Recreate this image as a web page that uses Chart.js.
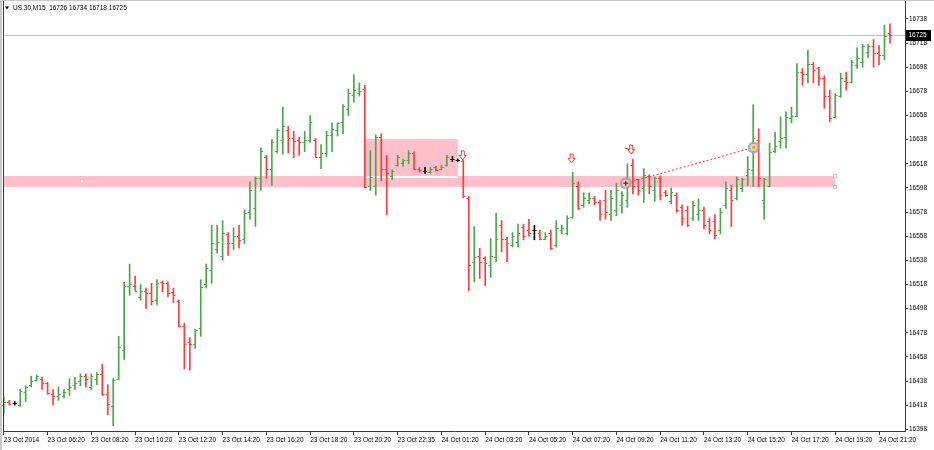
<!DOCTYPE html>
<html>
<head>
<meta charset="utf-8">
<title>US.30,M15</title>
<script src="https://cdn.jsdelivr.net/npm/chart.js@4.4.1/dist/chart.umd.min.js"></script>
<style>
  html, body { margin: 0; padding: 0; background: #fff; }
  #wrap { width: 934px; height: 450px; }
</style>
</head>
<body>
<div id="wrap"><canvas id="ohlc" width="934" height="450"></canvas></div>
<script>
var symbolTitle = "US.30,M15  16726 16734 16718 16725";

var timeLabels = [
  "23 Oct 2014", "23 Oct 06:20", "23 Oct 08:20", "23 Oct 10:20", "23 Oct 12:20",
  "23 Oct 14:20", "23 Oct 16:20", "23 Oct 18:20", "23 Oct 20:20", "23 Oct 22:35",
  "24 Oct 01:20", "24 Oct 03:20", "24 Oct 05:20", "24 Oct 07:20", "24 Oct 09:20",
  "24 Oct 11:20", "24 Oct 13:20", "24 Oct 15:20", "24 Oct 17:20", "24 Oct 19:20",
  "24 Oct 21:20"
];
var barsPerLabel = 8;

var priceTicks = [16398, 16418, 16438, 16458, 16478, 16498, 16518, 16538, 16558,
  16578, 16598, 16618, 16638, 16658, 16678, 16698, 16718, 16738];

// M15 bars, oldest first
var opens = [
  16418, 16421, 16420, 16418, 16429, 16435, 16439, 16440, 16436, 16427,
  16426, 16426, 16431, 16435, 16438, 16442, 16433, 16440, 16444, 16427,
  16417, 16440, 16464, 16517, 16517, 16508, 16513, 16511, 16505, 16520,
  16519, 16512, 16504, 16484, 16470, 16469, 16482, 16518, 16530, 16547,
  16542, 16560, 16552, 16558, 16556, 16578, 16581, 16606, 16624, 16614,
  16629, 16638, 16646, 16639, 16638, 16636, 16638, 16638, 16624, 16627,
  16642, 16646, 16653, 16663, 16675, 16677, 16680, 16600, 16600, 16640,
  16614, 16608, 16617, 16619, 16621, 16627, 16614, 16612, 16611, 16615,
  16614, 16617, 16622, 16621, 16620, 16590, 16537, 16542, 16540, 16534,
  16541, 16567, 16556, 16551, 16553, 16566, 16563, 16563, 16561, 16556,
  16561, 16551, 16563, 16561, 16574, 16600, 16584, 16588, 16590, 16586,
  16588, 16576, 16580, 16584, 16588, 16617, 16605, 16598, 16608, 16596,
  16606, 16595, 16587, 16592, 16582, 16580, 16573, 16576, 16580, 16571,
  16571, 16563, 16584, 16596, 16590, 16598, 16609, 16613, 16638, 16588,
  16600, 16629, 16637, 16640, 16656, 16658, 16694, 16692, 16701, 16697,
  16689, 16674, 16657, 16674, 16687, 16686, 16700, 16702, 16711, 16716,
  16710, 16708, 16726
];
var highs = [
  16425, 16422, 16421, 16431, 16434, 16442, 16443, 16441, 16437, 16431,
  16433, 16431, 16440, 16441, 16444, 16444, 16444, 16445, 16452, 16435,
  16440, 16475, 16520, 16535, 16525, 16518, 16515, 16519, 16522, 16521,
  16520, 16515, 16505, 16486, 16474, 16481, 16522, 16535, 16567, 16567,
  16571, 16561, 16565, 16567, 16580, 16603, 16607, 16631, 16625, 16638,
  16647, 16665, 16649, 16645, 16640, 16645, 16658, 16639, 16634, 16645,
  16652, 16652, 16667, 16680, 16692, 16685, 16683, 16629, 16642, 16643,
  16625, 16613, 16625, 16622, 16629, 16628, 16615, 16615, 16615, 16616,
  16617, 16625, 16624, 16622, 16621, 16591, 16566, 16548, 16541, 16556,
  16577, 16571, 16557, 16561, 16568, 16568, 16572, 16567, 16563, 16561,
  16563, 16571, 16567, 16575, 16611, 16603, 16594, 16594, 16591, 16588,
  16596, 16596, 16602, 16595, 16618, 16622, 16605, 16614, 16609, 16607,
  16608, 16596, 16598, 16594, 16584, 16583, 16587, 16589, 16582, 16573,
  16576, 16581, 16603, 16600, 16607, 16606, 16624, 16667, 16647, 16606,
  16635, 16644, 16657, 16661, 16665, 16701, 16697, 16712, 16702, 16698,
  16691, 16679, 16676, 16693, 16694, 16704, 16714, 16717, 16717, 16721,
  16716, 16733, 16734
];
var lows = [
  16411, 16418, 16418, 16417, 16421, 16433, 16438, 16431, 16427, 16418,
  16422, 16424, 16426, 16431, 16434, 16433, 16431, 16435, 16426, 16410,
  16401, 16439, 16456, 16509, 16513, 16505, 16498, 16501, 16501, 16512,
  16508, 16503, 16483, 16448, 16447, 16465, 16475, 16515, 16519, 16544,
  16538, 16542, 16547, 16548, 16552, 16572, 16566, 16596, 16606, 16600,
  16627, 16626, 16627, 16623, 16625, 16628, 16636, 16623, 16614, 16624,
  16628, 16641, 16643, 16658, 16669, 16674, 16598, 16596, 16592, 16604,
  16576, 16605, 16616, 16616, 16618, 16613, 16611, 16610, 16610, 16612,
  16613, 16616, 16620, 16620, 16590, 16513, 16520, 16523, 16517, 16524,
  16537, 16545, 16537, 16549, 16549, 16555, 16558, 16555, 16555, 16555,
  16547, 16549, 16560, 16559, 16573, 16580, 16582, 16585, 16584, 16571,
  16572, 16571, 16575, 16577, 16582, 16593, 16592, 16586, 16593, 16587,
  16588, 16591, 16585, 16578, 16567, 16566, 16571, 16571, 16564, 16560,
  16556, 16560, 16581, 16566, 16588, 16595, 16600, 16599, 16599, 16572,
  16599, 16627, 16631, 16631, 16652, 16657, 16683, 16685, 16685, 16683,
  16664, 16653, 16656, 16673, 16679, 16685, 16697, 16698, 16706, 16698,
  16700, 16704, 16718
];
var closes = [
  16421, 16419, 16420, 16430, 16433, 16438, 16442, 16436, 16428, 16426,
  16427, 16429, 16433, 16436, 16442, 16440, 16442, 16444, 16427, 16419,
  16439, 16466, 16517, 16518, 16513, 16513, 16511, 16504, 16519, 16519,
  16511, 16509, 16484, 16469, 16469, 16480, 16516, 16532, 16552, 16553,
  16561, 16552, 16558, 16555, 16577, 16596, 16606, 16629, 16614, 16636,
  16646, 16649, 16639, 16637, 16636, 16638, 16653, 16624, 16627, 16642,
  16647, 16652, 16666, 16677, 16679, 16678, 16599, 16607, 16640, 16614,
  16610, 16612, 16624, 16621, 16627, 16614, 16613, 16612, 16614, 16613,
  16615, 16624, 16622, 16621, 16591, 16534, 16541, 16537, 16536, 16542,
  16556, 16556, 16552, 16558, 16561, 16558, 16561, 16563, 16556, 16558,
  16548, 16565, 16565, 16573, 16602, 16581, 16590, 16590, 16586, 16576,
  16578, 16590, 16596, 16592, 16601, 16600, 16596, 16609, 16600, 16606,
  16592, 16592, 16595, 16580, 16573, 16567, 16584, 16580, 16567, 16563,
  16559, 16578, 16598, 16588, 16605, 16605, 16614, 16639, 16606, 16605,
  16628, 16633, 16639, 16657, 16658, 16694, 16692, 16701, 16696, 16689,
  16674, 16656, 16675, 16689, 16686, 16702, 16706, 16716, 16716, 16710,
  16708, 16724, 16725
];
var lastPrice = 16725;

// chart objects (bar index / price)
var bandLow = 16598.8, bandHigh = 16607.9, bandEnd = 151.96;
var boxFrom = 65.85, boxTo = 83.0, boxLow = 16607.9, boxHigh = 16638.5;
var arrowIdx = [83.9, 103.8, 114.7];
var arrowTip = [16621.2, 16618.7, 16626.1];
var trendFrom = [113.7, 16601.8], trendTo = [137.1, 16631.6];

var upColor = "#4aa64a";
var downColor = "#ff3c3c";

function barColor(i) {
  if (closes[i] > opens[i]) return upColor;
  if (closes[i] < opens[i]) return downColor;
  return "#000000";
}

Chart.defaults.font.family = "'Liberation Sans', Arial, sans-serif";
Chart.defaults.font.size = 6.5;
Chart.defaults.color = "#000";

// background objects: support band and box
var backObjects = {
  id: "backObjects",
  beforeDraw: function (chart) {
    var c = chart.ctx;
    c.save();
    c.fillStyle = "#ffffff";
    c.fillRect(0, 0, chart.width, chart.height);
    c.fillStyle = "#c9c9c9";
    c.fillRect(0, 0, chart.width, 1);
    c.fillRect(0, 0, 2, chart.height);
    c.restore();
  },
  beforeDatasetsDraw: function (chart) {
    var c = chart.ctx, xs = chart.scales.x, ys = chart.scales.y, a = chart.chartArea;
    c.save();
    // current price line
    var yp = Math.round(ys.getPixelForValue(lastPrice)) + 0.5;
    c.strokeStyle = "#c4c4c4";
    c.lineWidth = 1;
    c.beginPath();
    c.moveTo(a.left, yp);
    c.lineTo(a.right, yp);
    c.stroke();

    c.fillStyle = "#ffc0cb";
    var bt = ys.getPixelForValue(bandHigh), bb = ys.getPixelForValue(bandLow);
    var br = xs.getPixelForValue(bandEnd);
    c.fillRect(a.left + 1, bt, br - a.left - 1, bb - bt);

    var rl = xs.getPixelForValue(boxFrom), rr = xs.getPixelForValue(boxTo);
    var rt = ys.getPixelForValue(boxHigh), rb = ys.getPixelForValue(boxLow);
    c.fillRect(rl, rt, rr - rl, rb - rt);
    c.fillStyle = "#ffffff";
    c.fillRect(rl + 1.5, rb, rr - rl - 1.5, 2);

    // band end handles and anchor dot
    c.strokeStyle = "#ffb0c0";
    c.fillStyle = "#ffffff";
    [bt, bb].forEach(function (yy) {
      c.fillRect(br - 1.5, yy - 1.5, 3, 3);
      c.strokeRect(br - 1.5, yy - 1.5, 3, 3);
    });
    c.fillRect(xs.getPixelForValue(14.3) - 1, ys.getPixelForValue(16603.5) - 1, 2, 2);
    c.restore();
  }
};

// open / close ticks of each bar
var ohlcTicks = {
  id: "ohlcTicks",
  afterDatasetsDraw: function (chart) {
    var c = chart.ctx, xs = chart.scales.x, ys = chart.scales.y;
    c.save();
    c.lineWidth = 1;
    for (var i = 0; i < opens.length; i++) {
      var px = xs.getPixelForValue(i);
      var yo = Math.round(ys.getPixelForValue(opens[i])) + 0.5;
      var yc = Math.round(ys.getPixelForValue(closes[i])) + 0.5;
      c.strokeStyle = barColor(i);
      c.beginPath();
      c.moveTo(px - 2.2, yo);
      c.lineTo(px, yo);
      c.moveTo(px, yc);
      c.lineTo(px + 2.2, yc);
      c.stroke();
    }
    c.restore();
  }
};

function downArrow(c, x, tip) {
  c.beginPath();
  c.moveTo(x - 1.5, tip - 9);
  c.lineTo(x + 1.5, tip - 9);
  c.lineTo(x + 1.5, tip - 4.5);
  c.lineTo(x + 3.5, tip - 4.5);
  c.lineTo(x, tip);
  c.lineTo(x - 3.5, tip - 4.5);
  c.lineTo(x - 1.5, tip - 4.5);
  c.closePath();
  c.fillStyle = "#ffffff";
  c.fill();
  c.strokeStyle = "#ff3030";
  c.lineWidth = 1;
  c.stroke();
}

function marker(c, x, y, inner) {
  c.fillStyle = "rgba(160,160,160,0.8)";
  c.beginPath();
  c.arc(x, y, 6, 0, Math.PI * 2);
  c.fill();
  c.fillStyle = "#dadada";
  c.beginPath();
  c.arc(x, y, 3.5, 0, Math.PI * 2);
  c.fill();
  if (inner === "cross") {
    c.strokeStyle = "#ff0000";
    c.lineWidth = 1.5;
    c.beginPath();
    c.moveTo(x - 2.5, y); c.lineTo(x + 2.5, y);
    c.moveTo(x, y - 2.5); c.lineTo(x, y + 2.5);
    c.stroke();
  } else {
    c.fillStyle = "#ffa500";
    c.fillRect(x - 1.5, y - 1.5, 3, 3);
  }
}

// foreground objects: trend line, markers, arrows, frame, title, price tag
var frontObjects = {
  id: "frontObjects",
  afterDraw: function (chart) {
    var c = chart.ctx, xs = chart.scales.x, ys = chart.scales.y, a = chart.chartArea;
    c.save();
    var x1 = xs.getPixelForValue(trendFrom[0]), y1 = ys.getPixelForValue(trendFrom[1]);
    var x2 = xs.getPixelForValue(trendTo[0]), y2 = ys.getPixelForValue(trendTo[1]);
    c.strokeStyle = "#ff3030";
    c.lineWidth = 1;
    c.setLineDash([2, 2]);
    c.beginPath();
    c.moveTo(x1, y1);
    c.lineTo(x2, y2);
    c.stroke();
    c.setLineDash([]);
    marker(c, x1, y1, "cross");
    marker(c, x2, y2, "dot");

    for (var k = 0; k < arrowIdx.length; k++) {
      downArrow(c, xs.getPixelForValue(arrowIdx[k]), ys.getPixelForValue(arrowTip[k]));
    }
    var ax = xs.getPixelForValue(arrowIdx[2]), at = ys.getPixelForValue(arrowTip[2]);
    c.strokeStyle = "#ff3030";
    c.beginPath();
    c.moveTo(ax - 6.5, at - 5.5);
    c.lineTo(ax - 3.5, at - 5.5);
    c.stroke();

    // left frame line
    c.strokeStyle = "#3a3a3a";
    c.beginPath();
    c.moveTo(a.left + 0.5, a.top);
    c.lineTo(a.left + 0.5, a.bottom);
    c.stroke();

    // title
    c.fillStyle = "#000";
    c.beginPath();
    c.moveTo(5, 6.5); c.lineTo(9, 6.5); c.lineTo(7, 9.5);
    c.closePath();
    c.fill();
    c.font = "6.5px 'Liberation Sans', Arial, sans-serif";
    c.textBaseline = "middle";
    c.textAlign = "left";
    c.fillText(symbolTitle, 13, 8.5);

    // current price tag
    var yp = Math.round(ys.getPixelForValue(lastPrice));
    c.fillStyle = "#000";
    c.fillRect(a.right + 1, yp - 5, 25, 11);
    c.fillStyle = "#fff";
    c.fillText(String(lastPrice), a.right + 3.5, yp + 0.5);
    c.restore();
  }
};

var idx = opens.map(function (_, i) { return i; });

new Chart(document.getElementById("ohlc"), {
  type: "bar",
  data: {
    datasets: [{
      label: "US.30,M15",
      data: idx.map(function (i) { return { x: i, y: [lows[i], highs[i]] }; }),
      backgroundColor: idx.map(barColor),
      borderWidth: 0,
      barThickness: 1,
      grouped: false
    }]
  },
  options: {
    responsive: false,
    animation: false,
    events: [],
    layout: { autoPadding: false, padding: { left: 3, top: 1, right: 0, bottom: 0 } },
    plugins: { legend: { display: false }, tooltip: { enabled: false } },
    scales: {
      x: {
        type: "linear",
        min: -0.15,
        max: 164.75,
        offset: false,
        afterBuildTicks: function (scale) {
          scale.ticks = timeLabels.map(function (_, k) { return { value: k * barsPerLabel }; });
        },
        afterFit: function (scale) {
          scale.height = 19;
          scale.paddingLeft = 0;
          scale.paddingRight = 0;
        },
        ticks: {
          autoSkip: false,
          maxRotation: 0,
          align: "start",
          padding: 1.5,
          color: "#000",
          callback: function (v) { return timeLabels[Math.round(v / barsPerLabel)]; }
        },
        grid: { offset: false, drawOnChartArea: false, tickLength: 4, color: "#3a3a3a" },
        border: { display: true, color: "#3a3a3a" }
      },
      y: {
        position: "right",
        min: 16396.6,
        max: 16752.9,
        afterBuildTicks: function (scale) {
          scale.ticks = priceTicks.map(function (v) { return { value: v }; });
        },
        afterFit: function (scale) {
          scale.width = 29;
          scale.paddingTop = 0;
          scale.paddingBottom = 0;
        },
        ticks: {
          padding: 1,
          color: "#000",
          callback: function (v) { return String(v); }
        },
        grid: { drawOnChartArea: false, tickLength: 3, color: "#3a3a3a" },
        border: { display: true, color: "#3a3a3a" }
      }
    }
  },
  plugins: [backObjects, ohlcTicks, frontObjects]
});
</script>
</body>
</html>
